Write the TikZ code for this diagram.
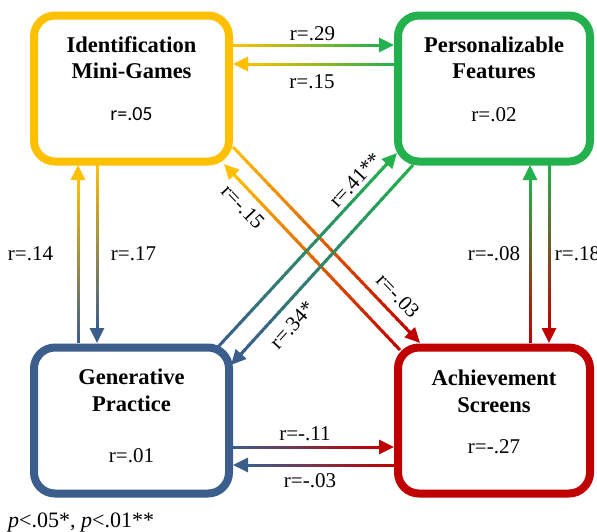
\documentclass[tikz,border=0pt]{standalone}
\usepackage{fontspec}
\setmainfont{Liberation Serif}
\newfontfamily\calfont{Carlito}
\usetikzlibrary{arrows.meta,calc}
\definecolor{ycol}{HTML}{FFC000}
\definecolor{gcol}{HTML}{22B14C}
\definecolor{bcol}{HTML}{3B5E8C}
\definecolor{rcol}{HTML}{C00000}
\tikzset{
  conn/.style={line width=3pt, line cap=butt},
  box/.style={draw=#1, line width=8pt, rounded corners=21pt, fill=white, minimum height=146pt, inner sep=0pt},
  ttl/.style={font=\fontsize{22.5}{27}\selectfont\bfseries, inner sep=0pt, anchor=base},
  rval/.style={font=\fontsize{21}{25}\selectfont, inner sep=0pt, anchor=base},
  lab/.style={font=\fontsize{21}{25}\selectfont, inner sep=0pt},
}
\newcommand\gradarrow[4]{%
  \coordinate (gabase) at ($(#2)!15pt!(#1)$);
  \coordinate (gaback) at ($(#2)!17pt!(#1)$);
  \foreach \i in {0,...,39}{%
    \pgfmathsetmacro\ta{\i/40}%
    \pgfmathsetmacro\tb{min((\i+1.4)/40,1)}%
    \pgfmathsetmacro\pc{100*(\i+0.5)/40}%
    \draw[conn, color=#4!\pc!#3] ($(#1)!\ta!(gabase)$) -- ($(#1)!\tb!(gabase)$);
  }%
  \draw[conn, color=#4, -{Triangle[length=15pt,width=14pt]}] (gaback) -- (#2);
}
\begin{document}
\begin{tikzpicture}[x=1pt,y=1pt]
\useasboundingbox (0,0) rectangle (597,-531);
% boxes
\node[box=ycol, minimum width=195pt] (id) at (131.5,-88.5) {};
\node[box=gcol, minimum width=192pt] (pf) at (494,-88.5) {};
\node[box=bcol, minimum width=195pt] (gp) at (131.5,-420.5) {};
\node[box=rcol, minimum width=192pt] (as) at (494,-420.5) {};
% box texts
\node[ttl] (idt1) at ($(id.center)+(0,36.5)$) {Identification};
\node[ttl] (idt2) at ($(id.center)+(0,10.5)$) {Mini-Games};
\node[rval, font=\calfont\fontsize{20}{24}\selectfont] (idr) at ($(id.center)+(0,-31.5)$) {r=.05};
\node[ttl] (pft1) at ($(pf.center)+(0,36.5)$) {Personalizable};
\node[ttl] (pft2) at ($(pf.center)+(0,10.5)$) {Features};
\node[rval] (pfr) at ($(pf.center)+(0,-32.5)$) {r=.02};
\node[ttl] (gpt1) at ($(gp.center)+(0,36.5)$) {Generative};
\node[ttl] (gpt2) at ($(gp.center)+(0,9.5)$) {Practice};
\node[rval] (gpr) at ($(gp.center)+(0,-41.5)$) {r=.01};
\node[ttl] (ast1) at ($(as.center)+(0,35.5)$) {Achievement};
\node[ttl] (ast2) at ($(as.center)+(0,8.5)$) {Screens};
\node[rval] (asr) at ($(as.center)+(0,-32.5)$) {r=-.27};
% connector end points
\coordinate (t1s) at ($(id.center)+(101.5,43.5)$);
\coordinate (t1t) at ($(pf.center)+(-100,43.5)$);
\coordinate (t2s) at ($(pf.center)+(-100,24.5)$);
\coordinate (t2t) at ($(id.center)+(101.5,24.5)$);
\coordinate (l1s) at ($(gp.center)+(-53.5,77.5)$);
\coordinate (l1t) at ($(id.center)+(-53.5,-76.5)$);
\coordinate (l2s) at ($(id.center)+(-34.5,-76.5)$);
\coordinate (l2t) at ($(gp.center)+(-34.5,77.5)$);
\coordinate (r1s) at ($(as.center)+(36,77.5)$);
\coordinate (r1t) at ($(pf.center)+(36,-76.5)$);
\coordinate (r2s) at ($(pf.center)+(55,-76.5)$);
\coordinate (r2t) at ($(as.center)+(55,77.5)$);
\coordinate (b1s) at ($(gp.center)+(101.5,-26.5)$);
\coordinate (b1t) at ($(as.center)+(-100,-26.5)$);
\coordinate (b2s) at ($(as.center)+(-100,-44.5)$);
\coordinate (b2t) at ($(gp.center)+(101.5,-44.5)$);
\coordinate (das) at ($(id.center)+(101.5,-58.5)$);
\coordinate (dat) at ($(as.center)+(-74,77.5)$);
\coordinate (dbs) at ($(as.center)+(-94,70.5)$);
\coordinate (dbt) at ($(id.center)+(92.5,-75.5)$);
\coordinate (dcs) at ($(gp.center)+(86.5,73.5)$);
\coordinate (dct) at ($(pf.center)+(-97,-64.5)$);
\coordinate (dds) at ($(pf.center)+(-81,-76.5)$);
\coordinate (ddt) at ($(gp.center)+(99.5,55.5)$);
% connectors
\gradarrow{t1s}{t1t}{ycol}{gcol}
\gradarrow{t2s}{t2t}{gcol}{ycol}
\gradarrow{l1s}{l1t}{bcol}{ycol}
\gradarrow{l2s}{l2t}{ycol}{bcol}
\gradarrow{r1s}{r1t}{rcol}{gcol}
\gradarrow{r2s}{r2t}{gcol}{rcol}
\gradarrow{b1s}{b1t}{bcol}{rcol}
\gradarrow{b2s}{b2t}{rcol}{bcol}
\gradarrow{das}{dat}{ycol}{rcol}
\gradarrow{dbs}{dbt}{rcol}{ycol}
\gradarrow{dcs}{dct}{bcol}{gcol}
\gradarrow{dds}{ddt}{gcol}{bcol}
% labels
\node[lab] (l29) at (312.5,-33.5) {r=.29};
\node[lab] (l15) at (312,-82) {r=.15};
\node[lab] (l14) at (30.5,-253.5) {r=.14};
\node[lab] (l17) at (133.5,-253.5) {r=.17};
\node[lab] (l08) at (494,-253.5) {r=-.08};
\node[lab] (l18) at (577.5,-253.5) {r=.18};
\node[lab] (l11) at (305,-434) {r=-.11};
\node[lab] (l03b) at (310,-481) {r=-.03};
\node[lab, rotate=47.3] (l41) at (355,-180) {r=.41**};
\node[lab, rotate=47.7] (l34) at (292,-325) {r=.34*};
\node[lab, rotate=-46.5] (l15d) at (243,-207) {r=-.15};
\node[lab, rotate=-46.5] (l03d) at (398,-296) {r=-.03};
% footnote
\node[font=\fontsize{22}{26}\selectfont, inner sep=0pt, anchor=base west] (note) at (8,-527) {\textit{p}<.05*, \textit{p}<.01**};
\end{tikzpicture}
\end{document}
